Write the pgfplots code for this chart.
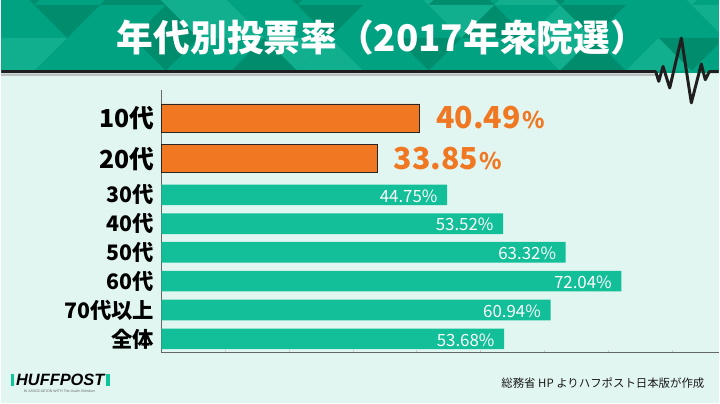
\documentclass[border=0pt]{standalone}
\usepackage{pgfplots}
\pgfplotsset{compat=1.18}
\usepackage{fontspec}
\setmainfont{Noto Sans CJK JP}
\newfontfamily\jp{Noto Sans CJK JP}
\newfontfamily\lat{Liberation Sans}
\definecolor{bg}{HTML}{E2F6F1}
\definecolor{head}{HTML}{00A282}
\definecolor{headd}{HTML}{008D6E}
\definecolor{headl}{HTML}{12AF8F}
\definecolor{tealbar}{HTML}{12BF98}
\definecolor{orbar}{HTML}{F07823}
\definecolor{logog}{HTML}{10C49A}
\begin{document}
\begin{tikzpicture}[x=1bp,y=1bp]
% background
\fill[bg] (0,0) rectangle (720,405);
% header band
\fill[head] (0,332) rectangle (720,405);
\begin{scope}
\clip (0,332) rectangle (720,405);
\foreach \r in {-1,0,1} {
  \foreach \k in {-1,...,11} {
    \pgfmathsetmacro\yt{405-(5+33*\r)}
    \pgfmathsetmacro\yb{405-(38+33*\r)}
    \pgfmathsetmacro\off{mod(\r+2,2)*33}
    \pgfmathsetmacro\xa{\k*66+\off}
    \pgfmathtruncatemacro\sa{mod(\k*7+\r*3+11,5)}
    \pgfmathtruncatemacro\sb{mod(\k*3+\r*5+13,4)}
    \ifnum\sa=0 \fill[headd] (\xa,\yb) -- (\xa+66,\yb) -- (\xa+33,\yt) -- cycle;\fi
    \ifnum\sa=2 \fill[headl] (\xa,\yb) -- (\xa+66,\yb) -- (\xa+33,\yt) -- cycle;\fi
    \ifnum\sb=1 \fill[headd] (\xa+33,\yt) -- (\xa+99,\yt) -- (\xa+66,\yb) -- cycle;\fi
    \ifnum\sb=3 \fill[headl] (\xa+33,\yt) -- (\xa+99,\yt) -- (\xa+66,\yb) -- cycle;\fi
  }
}
\end{scope}
% title
\node[text=white, font=\jp\bfseries\fontsize{37}{40}\selectfont, anchor=center] at (382,367) {年代別投票率（2017年衆院選）};
% heartbeat line
\draw[black!25, line width=1.5] (0,329.5) -- (656,329.5);
\draw[black!88, line width=3, line join=round, line cap=butt]
  (0,333) -- (657,333) -- (660,323.3) -- (664.3,338.3) -- (671,316.7) -- (682.7,366.7)
  -- (692.7,301.7) -- (702.7,340.7) -- (706.7,325) -- (710.7,333) -- (720,333);
% chart
\begin{axis}[
  at={(160.5bp,50.7bp)}, anchor=south west,
  scale only axis, width=559.5bp, height=264.3bp,
  xmin=0, xmax=87.25, ymin=0, ymax=264.3,
  axis lines*=left,
  axis line style={black!60, line width=0.9pt},
  xtick={10,20,...,80}, xticklabels={},
  x tick style={black!20, line width=0.6pt}, major tick length=3bp,
  ytick={235.8,195.0,158.6,129.6,101.0,72.0,43.0,14.0},
  yticklabels={{\fontsize{25}{25}\selectfont 10代},{\fontsize{25}{25}\selectfont 20代},30代,40代,50代,60代,70代以上,全体},
  y tick style={draw=none},
  yticklabel style={font=\jp\bfseries\fontsize{21.5}{22}\selectfont, text=black, anchor=east, inner sep=0pt, xshift=-7bp},
  clip=false,
]
\addplot[xbar, bar shift=0pt, bar width=20.7bp, fill=tealbar, draw=none,
  point meta=explicit symbolic,
  nodes near coords={\pgfplotspointmeta\%},
  nodes near coords style={anchor=east, xshift=-9.5bp, yshift=-1bp, inner sep=0pt, text=white, font=\jp\fontsize{17}{17}\selectfont}]
  coordinates {
    (44.75,158.6) [44.75]
    (53.52,129.6) [53.52]
    (63.32,101.0) [63.32]
    (72.04,72.0) [72.04]
    (60.94,43.0) [60.94]
    (53.68,14.0) [53.68]
  };
\addplot[xbar, bar shift=0pt, bar width=28.2bp, fill=orbar, draw=black!85, line width=0.9pt,
  point meta=explicit symbolic,
  nodes near coords={{\fontsize{30.5}{30}\selectfont\bfseries\pgfplotspointmeta}\,{\fontsize{23}{22}\selectfont\bfseries\%}},
  nodes near coords style={anchor=west, xshift=16bp, inner sep=0pt, text=orbar, font=\jp}]
  coordinates {
    (40.49,235.8) [40.49]
    (33.85,195.0) [33.85]
  };
\end{axis}
% logo
\fill[logog] (9.3,17.3) rectangle (12.6,29.3);
\fill[logog] (105.4,17.3) rectangle (109,29.3);
\node[anchor=center, inner sep=0pt, font=\lat\bfseries\itshape\fontsize{16.5}{16}\selectfont] at (59,23.3) {HUFFPOST};
\node[anchor=center, inner sep=0pt, text=black!60, font=\lat\fontsize{3.6}{4}\selectfont] at (58,12.5) {IN ASSOCIATION WITH \textit{The Asahi Shimbun}};
% source
\node[anchor=east, inner sep=0pt, text=black!90, font=\jp\fontsize{11.5}{12}\selectfont] at (706,20) {総務省 HP よりハフポスト日本版が作成};
\end{tikzpicture}
\end{document}
